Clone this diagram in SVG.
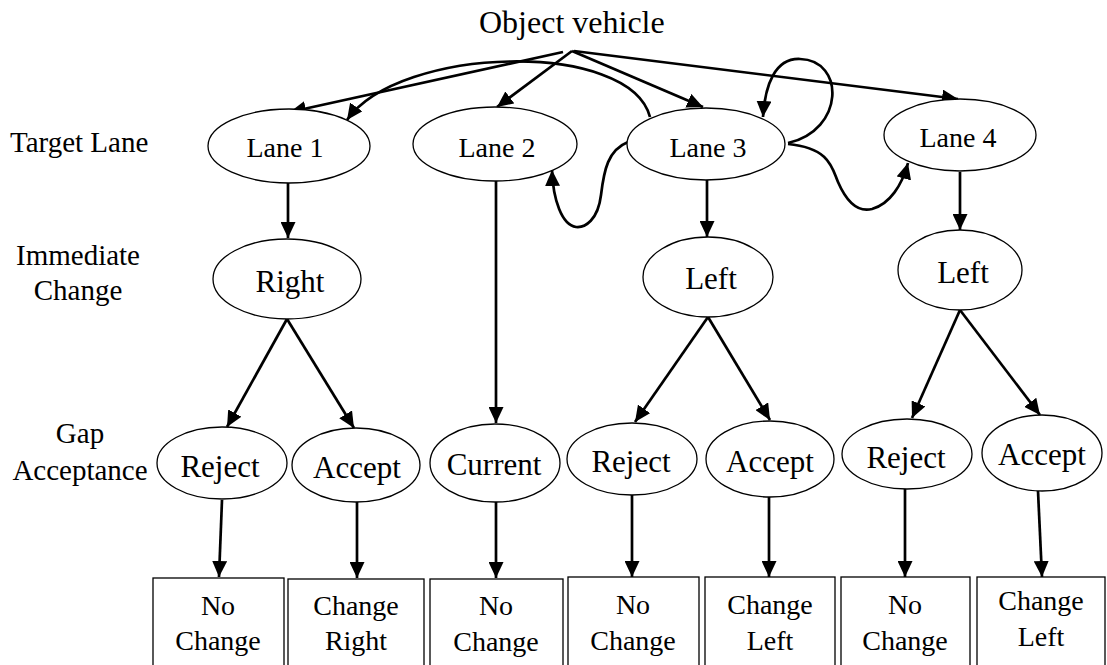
<svg xmlns="http://www.w3.org/2000/svg" width="1107" height="665" viewBox="0 0 1107 665">
<style>
  text { font-family: "Liberation Serif", "Times New Roman", "DejaVu Serif", serif; fill: #000; }
  .lbl { font-size: 29px; }
  .lane { font-size: 28px; text-anchor: middle; }
  .nd { font-size: 31px; text-anchor: middle; }
  .bx { font-size: 28px; text-anchor: middle; }
  ellipse, rect.box { fill: #fff; stroke: #000; stroke-width: 1.3; }
  .c { fill: none; stroke: #000; stroke-width: 2.7; marker-end: url(#ah); }
</style>
<defs>
  <marker id="ah" markerUnits="userSpaceOnUse" markerWidth="17" markerHeight="15" refX="16" refY="7.5" orient="auto">
    <path d="M0,0 L16,7.5 L0,15 z" fill="#000"/>
  </marker>
</defs>
<rect width="1107" height="665" fill="#fff"/>

<g id="labels" font-family="Liberation Serif, serif">
  <text x="479" y="33" style="font-size:32px">Object vehicle</text>
  <text class="lbl" x="10" y="152">Target Lane</text>
  <text class="lbl" x="78" y="265" text-anchor="middle">Immediate</text>
  <text class="lbl" x="78" y="300" text-anchor="middle">Change</text>
  <text class="lbl" x="80" y="443" text-anchor="middle">Gap</text>
  <text class="lbl" x="80" y="480" text-anchor="middle">Acceptance</text>
</g>

<g id="connectors">
  <line class="c" x1="563" y1="52" x2="290" y2="112"/>
  <line class="c" x1="572" y1="51" x2="497" y2="107"/>
  <line class="c" x1="572" y1="51" x2="703" y2="107"/>
  <line class="c" x1="574" y1="51" x2="958" y2="99"/>
  <path class="c" d="M650,117 C630,40 400,45 347,120"/>
  <path class="c" d="M788,143 C845,130 845,60 800,59 C775,58 765,85 763,117"/>
  <path class="c" d="M788,144 C830,148 832,168 838,182 C848,205 860,212 872,209 C890,204 902,185 908,163"/>
  <path class="c" d="M628,142 C608,150 604,170 601,195 C598,220 585,228 576,227 C562,225 553,200 552,170"/>
  <line class="c" x1="288" y1="183" x2="288" y2="238"/>
  <line class="c" x1="496" y1="181" x2="496" y2="423"/>
  <line class="c" x1="707" y1="180" x2="707" y2="237"/>
  <line class="c" x1="960" y1="172" x2="960" y2="230"/>
  <line class="c" x1="287" y1="319" x2="227" y2="427"/>
  <line class="c" x1="287" y1="319" x2="354" y2="428"/>
  <line class="c" x1="708" y1="317" x2="635" y2="422"/>
  <line class="c" x1="708" y1="317" x2="770" y2="420"/>
  <line class="c" x1="960" y1="310" x2="912" y2="418"/>
  <line class="c" x1="960" y1="310" x2="1040" y2="415"/>
  <line class="c" x1="222" y1="500" x2="219" y2="577"/>
  <line class="c" x1="357" y1="502" x2="357" y2="578"/>
  <line class="c" x1="496" y1="502" x2="496" y2="578"/>
  <line class="c" x1="632" y1="495" x2="632" y2="577"/>
  <line class="c" x1="769" y1="497" x2="769" y2="577"/>
  <line class="c" x1="905" y1="489" x2="905" y2="577"/>
  <line class="c" x1="1038" y1="491" x2="1042" y2="577"/>
</g>

<g id="lane1"><ellipse cx="289" cy="146" rx="81" ry="37"/><text class="lane" x="285" y="157">Lane 1</text></g>
<g id="lane2"><ellipse cx="495" cy="144" rx="82" ry="37"/><text class="lane" x="497" y="157">Lane 2</text></g>
<g id="lane3"><ellipse cx="706" cy="144" rx="79" ry="36"/><text class="lane" x="708" y="157">Lane 3</text></g>
<g id="lane4"><ellipse cx="960" cy="135" rx="76" ry="36"/><text class="lane" x="958" y="147">Lane 4</text></g>

<g id="right"><ellipse cx="287" cy="279" rx="74" ry="40"/><text class="nd" x="290" y="292">Right</text></g>
<g id="left3"><ellipse cx="708" cy="277" rx="65" ry="40"/><text class="nd" x="711" y="289">Left</text></g>
<g id="left4"><ellipse cx="960" cy="270" rx="62" ry="40"/><text class="nd" x="963" y="283">Left</text></g>

<g id="reject1"><ellipse cx="222" cy="463" rx="65" ry="36"/><text class="nd" x="220" y="477">Reject</text></g>
<g id="accept1"><ellipse cx="356" cy="465" rx="64" ry="37"/><text class="nd" x="357" y="478">Accept</text></g>
<g id="current"><ellipse cx="495" cy="463" rx="65" ry="39"/><text class="nd" x="494" y="475">Current</text></g>
<g id="reject3"><ellipse cx="632" cy="459" rx="65" ry="36"/><text class="nd" x="631" y="472">Reject</text></g>
<g id="accept3"><ellipse cx="770" cy="459" rx="64" ry="38"/><text class="nd" x="770" y="472">Accept</text></g>
<g id="reject4"><ellipse cx="907" cy="454" rx="65" ry="35"/><text class="nd" x="906" y="468">Reject</text></g>
<g id="accept4"><ellipse cx="1042" cy="453" rx="60" ry="38"/><text class="nd" x="1042" y="465">Accept</text></g>

<g id="box1"><rect class="box" x="153" y="578" width="131" height="100"/><text class="bx" x="218" y="615">No</text><text class="bx" x="218" y="650">Change</text></g>
<g id="box2"><rect class="box" x="288" y="579" width="136" height="100"/><text class="bx" x="356" y="615">Change</text><text class="bx" x="356" y="650">Right</text></g>
<g id="box3"><rect class="box" x="430" y="579" width="133" height="100"/><text class="bx" x="496" y="615">No</text><text class="bx" x="496" y="651">Change</text></g>
<g id="box4"><rect class="box" x="568" y="577" width="131" height="100"/><text class="bx" x="633" y="614">No</text><text class="bx" x="633" y="650">Change</text></g>
<g id="box5"><rect class="box" x="705" y="577" width="130" height="100"/><text class="bx" x="770" y="614">Change</text><text class="bx" x="770" y="650">Left</text></g>
<g id="box6"><rect class="box" x="841" y="577" width="129" height="100"/><text class="bx" x="905" y="614">No</text><text class="bx" x="905" y="650">Change</text></g>
<g id="box7"><rect class="box" x="977" y="577" width="128" height="100"/><text class="bx" x="1041" y="610">Change</text><text class="bx" x="1041" y="646">Left</text></g>
</svg>
